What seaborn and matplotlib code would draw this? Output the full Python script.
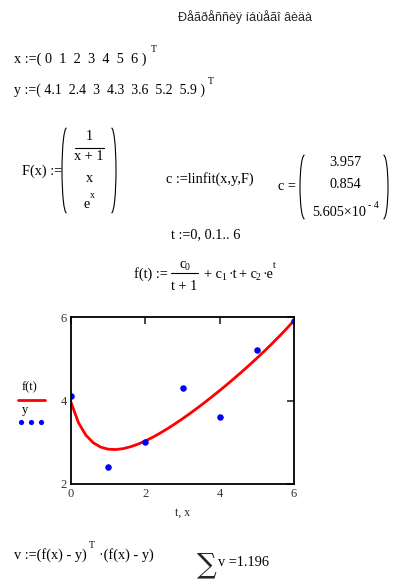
import matplotlib
matplotlib.use("Agg")
import matplotlib.pyplot as plt
from matplotlib.patches import Arc
import seaborn as sns

# data from the worksheet
x_data = [0, 1, 2, 3, 4, 5, 6]
y_data = [4.1, 2.4, 3, 4.3, 3.6, 5.2, 5.9]
coef_labels = ["3.957", "0.854", "5.605\u00d710"]

# fitted curve f(t) (t step 0.2)
t_vals = [0.0, 0.2, 0.4, 0.6, 0.8, 1.0, 1.2, 1.4, 1.6, 1.8, 2.0,
          2.2, 2.4, 2.6, 2.8, 3.0, 3.2, 3.4, 3.6, 3.8, 4.0,
          4.2, 4.4, 4.6, 4.8, 5.0, 5.2, 5.4, 5.6, 5.8, 6.0]
f_vals = [3.958, 3.469, 3.169, 2.987, 2.883, 2.834, 2.825, 2.847, 2.891, 2.954, 3.031,
          3.120, 3.220, 3.327, 3.442, 3.563, 3.689, 3.820, 3.955, 4.095, 4.238,
          4.385, 4.536, 4.691, 4.850, 5.013, 5.181, 5.354, 5.534, 5.720, 5.915]

x_ticks = [0, 2, 4, 6]
y_ticks = [2, 4, 6]

sns.set_style("white")
plt.rcParams['font.family'] = ['Liberation Serif', 'DejaVu Serif']

W, H = 397, 583
fig = plt.figure(figsize=(W / 100, H / 100), dpi=100)

# overlay in pixel coordinates for the worksheet text
page = fig.add_axes([0, 0, 1, 1])
page.set_xlim(0, W)
page.set_ylim(H, 0)
page.axis('off')

fs = 10.3
sub = 7


def txt(x, y, s, size=fs, ha='left', **kw):
    page.text(x, y, s, fontsize=size, ha=ha, va='center', color='black', **kw)


def paren(x, y0, y1, left=True, w=10):
    cx = x + w / 2 if left else x - w / 2
    th = (90, 270) if left else (-90, 90)
    page.add_patch(Arc((cx, (y0 + y1) / 2), w, y1 - y0, theta1=th[0], theta2=th[1],
                       color='black', lw=0.8))


# title
page.text(245, 17, "\u00d0\u00e5\u00e3\u00f0\u00e5\u00f1\u00f1\u00e8\u00ff \u00ed\u00e1\u00f9\u00e5\u00e3\u00ee \u00e2\u00e8\u00e4\u00e0",
          fontsize=9, ha='center', va='center', family=['Liberation Sans'])

# vectors
txt(14, 59, "x :=( " + "  ".join(str(v) for v in x_data) + " )")
txt(151, 50, "T", sub)
txt(14, 90, "y :=( " + "  ".join(f"{v:g}" for v in y_data) + " )", 10)
txt(208, 81, "T", sub)

# F(x)
txt(22, 171, "F(x) :=")
paren(62, 128, 213, True, 9)
paren(116, 128, 213, False, 9)
txt(89, 137, "1", ha='center')
page.plot([75, 104], [148, 148], color='black', lw=0.8)
txt(89, 157, "x + 1", ha='center')
txt(89, 179, "x", ha='center')
txt(87, 205, "e", ha='center')
txt(90, 196, "x", sub)

# linfit
txt(166, 179, "c :=linfit(x,y,F)")
txt(278, 186, "c =")
paren(300, 155, 219, True, 9)
paren(388, 155, 219, False, 9)
txt(345, 162, coef_labels[0], ha='center')
txt(345, 184, coef_labels[1], ha='center')
txt(312, 212, coef_labels[2])
txt(368, 205, "- 4", sub)

# range and f(t)
txt(206, 235, "t :=0, 0.1.. 6", ha='center')
txt(134, 274, "f(t) :=")
txt(179, 264, "c")
txt(185, 267, "0", sub)
page.plot([171, 198], [273, 273], color='black', lw=0.8)
txt(184, 286, "t + 1", ha='center')
txt(204, 275, "+ c")
txt(221, 278, "1", sub)
txt(228, 275, "\u00b7t")
txt(239, 275, "+ c")
txt(256, 278, "2", sub)
txt(262, 275, "\u00b7e")
txt(273, 266, "t", sub)

# legend beside the plot
txt(22, 387, "f(t)", 9)
page.plot([18, 45], [400, 400], color='red', lw=2)
txt(22, 410, "y", 9)
page.scatter([21, 31, 41], [422, 422, 422], s=14, color='blue', lw=0)

# bottom expressions
txt(14, 555, "v :=(f(x) - y)")
txt(89, 546, "T", sub)
txt(99, 555, "\u00b7(f(x) - y)")
page.text(207, 565, "\u2211", fontsize=20, ha='center', va='center', family=['DejaVu Serif'])
txt(218, 562, "v =1.196")

# the plot itself
ax = fig.add_axes([71 / W, 1 - 484 / H, (294 - 71) / W, (484 - 317) / H])
sns.lineplot(x=t_vals, y=f_vals, color='red', lw=2, ax=ax, zorder=2)
sns.scatterplot(x=x_data, y=y_data, color='blue', s=22, linewidth=0, ax=ax, zorder=3)
ax.set_xlim(0, 6)
ax.set_ylim(2, 6)
ax.set_xticks(x_ticks)
ax.set_yticks(y_ticks)
ax.tick_params(direction='in', length=5, width=1.2, top=True, right=True,
               labelsize=9, labelcolor='#333333', pad=3)
for s in ax.spines.values():
    s.set_linewidth(1.3)
    s.set_color('black')
    s.set_zorder(4)
ax.set_xlabel("t, x", fontsize=8.5, labelpad=5)
ax.set_ylabel("")

fig.savefig("out.png", dpi=100)
